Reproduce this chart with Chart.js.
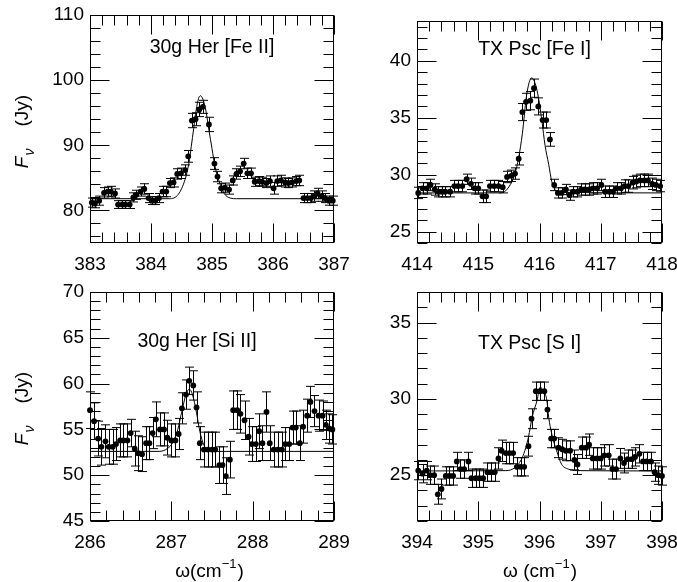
<!DOCTYPE html>
<html>
<head>
<meta charset="utf-8">
<script src="https://cdn.jsdelivr.net/npm/chart.js@4.4.1/dist/chart.umd.min.js"></script>
<style>
  html, body { margin: 0; padding: 0; background: #fff; overflow: hidden; }
  #wrap { position: relative; width: 677px; height: 582px; overflow: hidden; }
  canvas { position: absolute; }
</style>
</head>
<body>
<div id="wrap">
  <canvas id="feII" width="380" height="277" style="left:0;top:0"></canvas>
  <canvas id="feI" width="339" height="277" style="left:338px;top:0"></canvas>
  <canvas id="siII" width="380" height="310" style="left:0;top:277px"></canvas>
  <canvas id="sI" width="339" height="310" style="left:338px;top:277px"></canvas>
</div>
<script>
// ---- 30g Her [Fe II] ----
const feIIXTicks = [383, 384, 385, 386, 387];
const feIIYTicks = [80, 90, 100, 110];
const feIIWave = [383.03, 383.08, 383.15, 383.23, 383.29, 383.34, 383.41, 383.46, 383.53, 383.58,
  383.65, 383.71, 383.76, 383.83, 383.89, 383.96, 384.01, 384.07, 384.13, 384.19,
  384.25, 384.31, 384.37, 384.43, 384.49, 384.56, 384.61, 384.67, 384.73, 384.79,
  384.85, 384.95, 385.04, 385.09, 385.15, 385.21, 385.28, 385.34, 385.40, 385.46,
  385.52, 385.58, 385.64, 385.70, 385.77, 385.82, 385.89, 385.95, 386.01, 386.07,
  386.13, 386.20, 386.25, 386.31, 386.38, 386.43, 386.50, 386.56, 386.62, 386.68,
  386.73, 386.80, 386.85, 386.92, 386.98];
const feIIFlux = [81.2, 81.1, 81.5, 82.7, 82.9, 82.9, 82.6, 80.9, 80.9, 80.9,
  80.9, 82.0, 82.4, 82.9, 83.3, 81.9, 81.5, 81.5, 81.9, 82.9,
  82.9, 84.2, 84.3, 85.6, 85.7, 86.2, 88.3, 93.8, 94.0, 95.5,
  95.9, 93.2, 87.2, 85.2, 83.4, 83.5, 83.2, 84.6, 85.6, 86.0,
  87.2, 85.7, 85.7, 84.4, 84.5, 84.4, 84.2, 84.5, 83.4, 84.5,
  84.6, 84.3, 84.2, 84.3, 84.5, 84.6, 81.9, 81.9, 81.9, 82.2,
  82.6, 82.2, 81.9, 81.5, 81.5];
const feIIErr = [0.7, 0.7, 0.7, 0.8, 0.7, 0.8, 0.7, 0.6, 0.6, 0.6,
  0.6, 0.7, 0.7, 0.7, 0.8, 0.7, 0.6, 0.6, 0.7, 0.8,
  0.8, 0.7, 0.7, 0.8, 0.8, 0.8, 0.9, 1.1, 1.0, 1.1,
  1.0, 1.1, 0.9, 0.8, 0.7, 0.7, 0.7, 0.7, 0.8, 0.8,
  0.8, 0.8, 0.8, 0.7, 0.7, 0.7, 0.7, 0.8, 0.9, 0.8,
  0.8, 0.7, 0.7, 0.7, 0.7, 0.8, 0.7, 0.7, 0.7, 0.8,
  0.8, 0.8, 0.7, 0.7, 0.7];
const feIIFitWave = [383.0, 384.3, 384.45, 384.56, 384.62, 384.66, 384.70, 384.74, 384.78, 384.81,
  384.85, 384.90, 384.95, 385.00, 385.05, 385.12, 385.20, 385.30, 385.40, 387.0];
const feIIFitFlux = [81.8, 81.8, 82.5, 84.8, 87.2, 89.8, 92.6, 95.4, 97.2, 97.6,
  97.1, 95.3, 92.3, 89.5, 86.7, 84.4, 82.6, 81.9, 81.8, 81.8];

// ---- TX Psc [Fe I] ----
const feIXTicks = [414, 415, 416, 417, 418];
const feIYTicks = [25, 30, 35, 40];
const feIWave = [414.02, 414.09, 414.16, 414.22, 414.29, 414.35, 414.41, 414.46, 414.54, 414.61,
  414.67, 414.74, 414.81, 414.88, 414.94, 415.00, 415.07, 415.13, 415.19, 415.26,
  415.33, 415.40, 415.47, 415.54, 415.60, 415.66, 415.72, 415.78, 415.85, 415.91,
  415.98, 416.05, 416.11, 416.17, 416.24, 416.30, 416.36, 416.43, 416.49, 416.55,
  416.62, 416.68, 416.74, 416.81, 416.87, 416.94, 417.01, 417.07, 417.14, 417.20,
  417.26, 417.33, 417.39, 417.45, 417.52, 417.58, 417.64, 417.71, 417.77, 417.84,
  417.90, 417.97];
const feIFlux = [28.4, 28.8, 28.8, 29.1, 28.7, 28.5, 28.5, 28.5, 28.5, 29.0,
  29.0, 29.0, 29.6, 29.2, 28.8, 28.8, 28.1, 28.1, 29.0, 29.0,
  29.0, 28.9, 29.8, 29.9, 30.1, 31.4, 35.5, 36.4, 36.5, 37.6,
  36.0, 34.8, 34.8, 33.1, 29.1, 28.4, 28.4, 28.7, 28.2, 28.5,
  28.5, 28.7, 28.7, 28.7, 28.8, 28.8, 29.1, 28.5, 28.5, 28.5,
  28.8, 28.8, 29.0, 29.0, 29.3, 29.4, 29.5, 29.5, 29.5, 29.2,
  29.1, 29.0];
const feIErr = [0.5, 0.5, 0.5, 0.5, 0.5, 0.45, 0.45, 0.45, 0.45, 0.5,
  0.5, 0.5, 0.45, 0.5, 0.5, 0.5, 0.55, 0.55, 0.5, 0.5,
  0.5, 0.5, 0.5, 0.5, 0.5, 0.55, 0.75, 0.75, 0.8, 0.8,
  0.75, 0.7, 0.7, 0.6, 0.5, 0.45, 0.45, 0.45, 0.45, 0.45,
  0.45, 0.5, 0.5, 0.5, 0.5, 0.5, 0.5, 0.5, 0.5, 0.5,
  0.5, 0.5, 0.55, 0.55, 0.55, 0.55, 0.55, 0.55, 0.55, 0.5,
  0.5, 0.5];
const feIFitWave = [414.0, 415.35, 415.45, 415.55, 415.60, 415.66, 415.72, 415.79, 415.87, 415.96,
  416.04, 416.09, 416.15, 416.20, 416.25, 416.32, 418.0];
const feIFitFlux = [28.4, 28.4, 28.6, 29.4, 30.1, 31.5, 33.6, 37.0, 38.5, 37.4,
  34.7, 32.6, 30.9, 29.4, 28.7, 28.45, 28.4];

// ---- 30g Her [Si II] ----
const siIIXTicks = [286, 287, 288, 289];
const siIIYTicks = [45, 50, 55, 60, 65, 70];
const siIIWave = [286.00, 286.05, 286.10, 286.14, 286.19, 286.23, 286.28, 286.32, 286.37, 286.41,
  286.46, 286.50, 286.55, 286.59, 286.64, 286.69, 286.73, 286.77, 286.81, 286.86,
  286.91, 286.95, 287.00, 287.05, 287.09, 287.13, 287.18, 287.22, 287.27, 287.31,
  287.35, 287.40, 287.45, 287.50, 287.54, 287.59, 287.63, 287.67, 287.72, 287.76,
  287.81, 287.85, 287.90, 287.95, 287.99, 288.04, 288.08, 288.12, 288.17, 288.21,
  288.26, 288.31, 288.36, 288.40, 288.45, 288.49, 288.53, 288.58, 288.62, 288.67,
  288.71, 288.76, 288.81, 288.86, 288.90, 288.94, 288.98];
const siIIFlux = [57.1, 55.9, 54.0, 53.1, 53.7, 53.1, 53.1, 53.4, 53.8, 53.8,
  53.8, 54.6, 52.9, 52.4, 52.3, 53.5, 53.5, 54.6, 56.1, 55.0,
  55.0, 54.1, 53.8, 53.8, 54.5, 57.3, 58.8, 60.3, 59.8, 57.4,
  53.5, 52.8, 52.8, 52.8, 52.8, 51.1, 51.1, 49.9, 51.7, 57.1,
  57.1, 56.7, 56.0, 54.2, 53.4, 53.4, 54.8, 53.5, 56.9, 53.5,
  52.8, 52.8, 52.8, 53.4, 53.4, 55.2, 55.2, 53.5, 55.3, 56.5,
  58.0, 57.0, 56.5, 56.5, 55.5, 55.1, 55.0];
const siIIErr = [2.0, 2.0, 1.9, 2.0, 1.8, 1.9, 1.9, 1.8, 1.8, 1.8,
  1.8, 1.5, 1.9, 1.9, 1.9, 1.8, 1.8, 1.7, 1.9, 1.8,
  1.8, 1.9, 1.8, 1.8, 1.7, 1.7, 1.6, 1.5, 1.6, 1.7,
  1.8, 1.9, 1.9, 1.9, 1.9, 2.0, 2.0, 2.0, 2.0, 2.1,
  2.1, 2.1, 2.1, 2.0, 1.9, 1.9, 1.9, 1.9, 2.2, 1.9,
  1.9, 1.9, 1.9, 1.8, 1.8, 1.8, 1.8, 1.9, 1.8, 1.8,
  1.7, 1.7, 1.7, 1.6, 1.6, 1.6, 1.6];
const siIIFitWave = [286.0, 286.85, 286.95, 287.02, 287.08, 287.13, 287.18, 287.22, 287.26, 287.31,
  287.35, 287.40, 287.46, 287.55, 289.0];
const siIIFitFlux = [52.6, 52.6, 52.9, 53.6, 55.0, 57.0, 58.8, 59.4, 58.8, 56.8,
  54.8, 53.3, 52.7, 52.6, 52.6];

// ---- TX Psc [S I] ----
const sIXTicks = [394, 395, 396, 397, 398];
const sIYTicks = [25, 30, 35];
const sIWave = [394.02, 394.09, 394.16, 394.21, 394.28, 394.34, 394.40, 394.47, 394.53, 394.59,
  394.65, 394.71, 394.77, 394.84, 394.89, 394.96, 395.02, 395.08, 395.15, 395.21,
  395.27, 395.33, 395.38, 395.45, 395.51, 395.57, 395.63, 395.69, 395.75, 395.82,
  395.87, 395.94, 396.01, 396.08, 396.13, 396.19, 396.24, 396.31, 396.37, 396.43,
  396.50, 396.57, 396.62, 396.69, 396.76, 396.81, 396.87, 396.94, 397.00, 397.06,
  397.13, 397.19, 397.25, 397.32, 397.38, 397.44, 397.51, 397.56, 397.63, 397.69,
  397.75, 397.82, 397.88, 397.94, 398.00];
const sIFlux = [25.3, 25.1, 25.3, 25.0, 25.0, 23.75, 24.1, 24.95, 24.95, 24.95,
  25.9, 25.4, 25.4, 25.9, 24.8, 24.8, 24.8, 24.8, 25.2, 25.2,
  25.2, 26.1, 26.6, 26.45, 26.45, 26.45, 25.55, 25.55, 25.55, 26.9,
  28.7, 30.5, 30.5, 30.5, 29.3, 27.4, 27.4, 26.8, 26.7, 26.6,
  26.6, 26.0, 25.7, 26.8, 26.8, 27.0, 26.1, 26.1, 26.1, 26.3,
  26.3, 25.4, 25.4, 26.1, 25.8, 26.05, 26.05, 26.2, 26.4, 25.9,
  25.9, 25.9, 25.2, 25.0, 24.95];
const sIErr = [0.6, 0.6, 0.6, 0.6, 0.6, 0.65, 0.65, 0.6, 0.6, 0.6,
  0.6, 0.6, 0.6, 0.6, 0.6, 0.6, 0.6, 0.6, 0.6, 0.6,
  0.6, 0.7, 0.7, 0.7, 0.7, 0.7, 0.6, 0.6, 0.6, 0.65,
  0.65, 0.6, 0.6, 0.6, 0.6, 0.6, 0.6, 0.65, 0.65, 0.65,
  0.65, 0.65, 0.65, 0.7, 0.7, 0.7, 0.7, 0.7, 0.7, 0.7,
  0.7, 0.65, 0.65, 0.65, 0.65, 0.6, 0.6, 0.6, 0.6, 0.6,
  0.6, 0.6, 0.6, 0.6, 0.6];
const sIFitWave = [394.0, 395.45, 395.6, 395.7, 395.76, 395.82, 395.88, 395.96, 396.01, 396.07,
  396.12, 396.15, 396.20, 396.28, 396.36, 396.47, 396.6, 398.0];
const sIFitFlux = [25.28, 25.3, 25.5, 26.0, 26.6, 27.5, 28.8, 29.9, 30.76, 30.5,
  29.9, 28.8, 27.7, 26.6, 25.72, 25.4, 25.3, 25.28];

const FONT = '"Liberation Sans", Arial, Helvetica, sans-serif';
Chart.defaults.font.family = FONT;
Chart.defaults.font.size = 19;
Chart.defaults.color = "#000";

function minorValues(min, max, step) {
  var out = [];
  for (var k = Math.ceil(min / step - 1e-9); k * step <= max + 1e-9; k++) {
    out.push(+(k * step).toFixed(6));
  }
  return out;
}

// error bars, box, inward ticks, titles
const pgplotPlugin = {
  id: "pgplot",
  beforeDatasetsDraw(chart, args, o) {
    const ctx = chart.ctx, xs = chart.scales.x, ys = chart.scales.y;
    const cap = 4.5;
    ctx.save();
    ctx.strokeStyle = "#000";
    ctx.lineWidth = 1;
    ctx.beginPath();
    o.wave.forEach(function(w, i) {
      const px = Math.round(xs.getPixelForValue(w)) + 0.5;
      const top = ys.getPixelForValue(o.flux[i] + o.err[i]);
      const bot = ys.getPixelForValue(o.flux[i] - o.err[i]);
      ctx.moveTo(px, top);
      ctx.lineTo(px, bot);
      ctx.moveTo(px - cap, top);
      ctx.lineTo(px + cap, top);
      ctx.moveTo(px - cap, bot);
      ctx.lineTo(px + cap, bot);
    });
    ctx.stroke();
    ctx.restore();
  },
  afterDraw(chart, args, o) {
    const ctx = chart.ctx, xs = chart.scales.x, ys = chart.scales.y;
    const a = chart.chartArea;
    const L = Math.round(a.left) + 0.5, R = Math.round(a.right) - 0.5;
    const T = Math.round(a.top) + 0.5, B = Math.round(a.bottom) - 0.5;
    ctx.save();
    ctx.strokeStyle = "#000";
    ctx.lineWidth = 1;
    ctx.strokeRect(L, T, R - L, B - T);

    ctx.beginPath();
    const major = 19, minor = 10;
    minorValues(xs.min, xs.max, o.xMinor).forEach(function(v) {
      const len = o.xTicks.indexOf(v) >= 0 ? major : minor;
      const px = Math.round(xs.getPixelForValue(v)) + 0.5;
      ctx.moveTo(px, B); ctx.lineTo(px, B - len);
      ctx.moveTo(px, T); ctx.lineTo(px, T + len);
    });
    minorValues(ys.min, ys.max, o.yMinor).forEach(function(v) {
      const len = o.yTicks.indexOf(v) >= 0 ? major : minor;
      const py = Math.round(ys.getPixelForValue(v)) + 0.5;
      ctx.moveTo(L, py); ctx.lineTo(L + len, py);
      ctx.moveTo(R, py); ctx.lineTo(R - len, py);
    });
    ctx.stroke();

    // panel title
    ctx.fillStyle = "#000";
    ctx.font = "19.5px " + FONT;
    ctx.textAlign = "center";
    ctx.textBaseline = "middle";
    ctx.fillText(o.title, (a.left + a.right) / 2 + o.titleDx, a.top + o.titleDy);

    // y axis title: F_nu (Jy)
    if (o.yTitle) {
      ctx.save();
      ctx.translate(22, a.top + 117);
      ctx.rotate(-Math.PI / 2);
      ctx.textAlign = "left";
      ctx.textBaseline = "alphabetic";
      ctx.font = "italic 19px " + FONT;
      const wF = ctx.measureText("F").width;
      ctx.font = "italic 14px " + FONT;
      const wNu = ctx.measureText("\u03bd").width;
      ctx.font = "19px " + FONT;
      const wJy = ctx.measureText("(Jy)").width;
      const gap = 22;
      let x = -(wF + wNu + gap + wJy) / 2;
      ctx.font = "italic 19px " + FONT;
      ctx.fillText("F", x, 6);
      x += wF + 1;
      ctx.font = "italic 14px " + FONT;
      ctx.fillText("\u03bd", x, 12);
      x += wNu + gap;
      ctx.font = "19px " + FONT;
      ctx.fillText("(Jy)", x, 6);
      ctx.restore();
    }

    // x axis title: omega (cm^-1)
    if (o.xTitle) {
      ctx.textAlign = "left";
      ctx.textBaseline = "alphabetic";
      ctx.font = "19px " + FONT;
      const w1 = ctx.measureText(o.xTitle).width;
      ctx.font = "13px " + FONT;
      const w2 = ctx.measureText("\u22121").width;
      ctx.font = "19px " + FONT;
      const w3 = ctx.measureText(")").width;
      let x = (a.left + a.right) / 2 + o.xTitleDx - (w1 + w2 + w3) / 2;
      const base = a.bottom + 55.5;
      ctx.fillText(o.xTitle, x, base);
      x += w1;
      ctx.font = "13px " + FONT;
      ctx.fillText("\u22121", x, base - 9);
      x += w2;
      ctx.font = "19px " + FONT;
      ctx.fillText(")", x + 1, base);
    }
    ctx.restore();
  }
};

function noScalePadding(scale) {
  scale.paddingLeft = 0;
  scale.paddingRight = 0;
  scale.paddingTop = 0;
  scale.paddingBottom = 0;
}

function makePanel(id, p) {
  const ctx = document.getElementById(id).getContext("2d");
  return new Chart(ctx, {
    type: "scatter",
    data: {
      datasets: [
        {
          data: p.fitWave.map(function(w, i) { return { x: w, y: p.fitFlux[i] }; }),
          showLine: true,
          borderColor: "#000",
          borderWidth: 1,
          pointRadius: 0,
          cubicInterpolationMode: "monotone"
        },
        {
          data: p.wave.map(function(w, i) { return { x: w, y: p.flux[i] }; }),
          pointRadius: 2.9,
          pointBackgroundColor: "#000",
          pointBorderWidth: 0,
          clip: false
        }
      ]
    },
    options: {
      responsive: false,
      animation: false,
      events: [],
      layout: { autoPadding: false, padding: p.padding },
      plugins: {
        legend: { display: false },
        tooltip: { enabled: false },
        pgplot: {
          wave: p.wave, flux: p.flux, err: p.err,
          xTicks: p.xTicks, yTicks: p.yTicks,
          xMinor: p.xMinor, yMinor: p.yMinor,
          title: p.title, titleDx: p.titleDx, titleDy: p.titleDy,
          yTitle: p.yTitle, xTitle: p.xTitle, xTitleDx: p.xTitleDx
        }
      },
      scales: {
        x: {
          type: "linear",
          min: p.xTicks[0],
          max: p.xTicks[p.xTicks.length - 1],
          grid: { display: false, drawTicks: false },
          border: { display: false },
          ticks: { padding: 10, maxRotation: 0, color: "#000" },
          afterBuildTicks: function(axis) {
            axis.ticks = p.xTicks.map(function(v) { return { value: v }; });
          },
          afterFit: function(scale) { scale.height = 30; noScalePadding(scale); }
        },
        y: {
          type: "linear",
          min: p.yMin,
          max: p.yMax,
          grid: { display: false, drawTicks: false },
          border: { display: false },
          ticks: { padding: 6, color: "#000" },
          afterBuildTicks: function(axis) {
            axis.ticks = p.yTicks.map(function(v) { return { value: v }; });
          },
          afterFit: function(scale) { scale.width = 50; noScalePadding(scale); }
        }
      }
    },
    plugins: [pgplotPlugin]
  });
}

makePanel("feII", {
  wave: feIIWave, flux: feIIFlux, err: feIIErr,
  fitWave: feIIFitWave, fitFlux: feIIFitFlux,
  xTicks: feIIXTicks, yTicks: feIIYTicks, yMin: 75, yMax: 110,
  xMinor: 0.2, yMinor: 2,
  title: "30g Her [Fe II]", titleDx: 0, titleDy: 33,
  yTitle: true,
  padding: { left: 40, right: 46, top: 15, bottom: 4 }
});

makePanel("feI", {
  wave: feIWave, flux: feIFlux, err: feIErr,
  fitWave: feIFitWave, fitFlux: feIFitFlux,
  xTicks: feIXTicks, yTicks: feIYTicks, yMin: 24, yMax: 43.5,
  xMinor: 0.2, yMinor: 1,
  title: "TX Psc [Fe I]", titleDx: -5, titleDy: 29,
  padding: { left: 29, right: 15, top: 21, bottom: 4 }
});

makePanel("siII", {
  wave: siIIWave, flux: siIIFlux, err: siIIErr,
  fitWave: siIIFitWave, fitFlux: siIIFitFlux,
  xTicks: siIIXTicks, yTicks: siIIYTicks, yMin: 45, yMax: 70,
  xMinor: 0.2, yMinor: 1,
  title: "30g Her [Si II]", titleDx: -15, titleDy: 50,
  yTitle: true, xTitle: "\u03c9(cm", xTitleDx: -3,
  padding: { left: 40, right: 46, top: 15, bottom: 36 }
});

makePanel("sI", {
  wave: sIWave, flux: sIFlux, err: sIErr,
  fitWave: sIFitWave, fitFlux: sIFitFlux,
  xTicks: sIXTicks, yTicks: sIYTicks, yMin: 22, yMax: 37,
  xMinor: 0.2, yMinor: 1,
  title: "TX Psc [S I]", titleDx: -10, titleDy: 52,
  xTitle: "\u03c9 (cm", xTitleDx: 0,
  padding: { left: 29, right: 15, top: 15, bottom: 36 }
});
</script>
</body>
</html>
